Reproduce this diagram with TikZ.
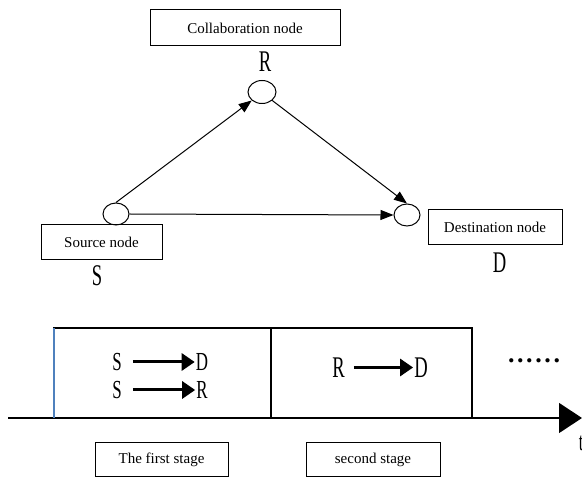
\documentclass[tikz,border=0pt]{standalone}
\usepackage{fontspec}
\setmainfont{Liberation Serif}
\usetikzlibrary{shapes.geometric,arrows.meta}
\definecolor{axisblue}{RGB}{79,129,189}
\begin{document}
\begin{tikzpicture}[x=1pt,y=-1pt,
  lbl/.style={draw,line width=1pt,inner sep=0pt,font=\fontsize{15}{17}\selectfont},
  vtx/.style={draw,ellipse,line width=1pt,inner sep=0pt,minimum width=26pt,minimum height=22pt},
  letter/.style={inner sep=0pt,font=\fontsize{30}{32}\selectfont},
  sletter/.style={inner sep=0pt,font=\fontsize{26}{28}\selectfont},
  conn/.style={line width=1pt,-{Triangle[length=13pt,width=10pt]}},
  flow/.style={line width=3pt,-{Triangle[length=13pt,width=17pt]}},
  stagebox/.style={draw,line width=1.3pt}]
\useasboundingbox (0,0) rectangle (582,478);
% top graph
\node[lbl,minimum width=190pt,minimum height=36pt] (collab) at (245,28) {Collaboration node};
\node[letter] (Rl) at (265,62) {\scalebox{0.62}[1]{R}};
\node[vtx,minimum width=28pt,minimum height=23pt] (R) at (262,92) {};
\node[vtx] (S) at (116,214) {};
\node[vtx] (D) at (407,215) {};
\node[lbl,minimum width=121pt,minimum height=35pt] (src) at (101.5,242.5) {Source node};
\node[letter] (Sl) at (97,275.5) {\scalebox{0.62}[1]{S}};
\node[lbl,minimum width=134pt,minimum height=35pt] (dst) at (495,227.5) {Destination node};
\node[letter] (Dl) at (499.5,262.5) {\scalebox{0.62}[1]{D}};
\draw[conn] (S.north) -- (R.south west);
\draw[conn] (S.east) -- (D.west);
\draw[conn] (R.south east) -- (D.north);
% timeline
\coordinate (a0) at (8,418);
\coordinate (a1) at (582,418);
\draw[line width=1.3pt,-{Triangle[length=23pt,width=30pt]}] (a0) -- (a1);
\node[inner sep=0pt,font=\fontsize{26}{28}\selectfont] (t) at (581,443) {\scalebox{0.62}[1]{t}};
\draw[stagebox] (54,418) -- (54,328) -- (271,328) -- (271,418);
\draw[line width=1.8pt,color=axisblue] (54,328) -- (54,418);
\draw[stagebox] (271,328) -- (472,328) -- (472,418);
% stage 1 text
\node[sletter] (s1a) at (117,362) {\scalebox{0.65}[1]{S}};
\node[sletter] (d1a) at (202,362) {\scalebox{0.65}[1]{D}};
\node[sletter] (s1b) at (117,390) {\scalebox{0.65}[1]{S}};
\node[sletter] (r1b) at (202,390) {\scalebox{0.65}[1]{R}};
\draw[flow] ([xshift=11pt]s1a.east) -- ([xshift=-1pt]d1a.west);
\draw[flow] ([xshift=11pt]s1b.east) -- ([xshift=-1pt]r1b.west);
% stage 2 text
\node[letter] (r2) at (338.5,367.5) {\scalebox{0.62}[1]{R}};
\node[letter] (d2) at (421,367.5) {\scalebox{0.62}[1]{D}};
\draw[flow] ([xshift=9pt]r2.east) -- ([xshift=-1pt]d2.west);
\node[inner sep=0pt,font=\fontsize{26}{28}\selectfont] (dots) at (534,361)
  {\textbf{.}\hspace{2.6pt}\textbf{.}\hspace{2.6pt}\textbf{.}\hspace{2.6pt}\textbf{.}\hspace{2.6pt}\textbf{.}\hspace{2.6pt}\textbf{.}};
% stage labels
\node[lbl,minimum width=133pt,minimum height=34pt] (st1) at (161.5,460) {The first stage};
\node[lbl,minimum width=134pt,minimum height=34pt] (st2) at (373,460) {second stage};
\end{tikzpicture}
\end{document}
